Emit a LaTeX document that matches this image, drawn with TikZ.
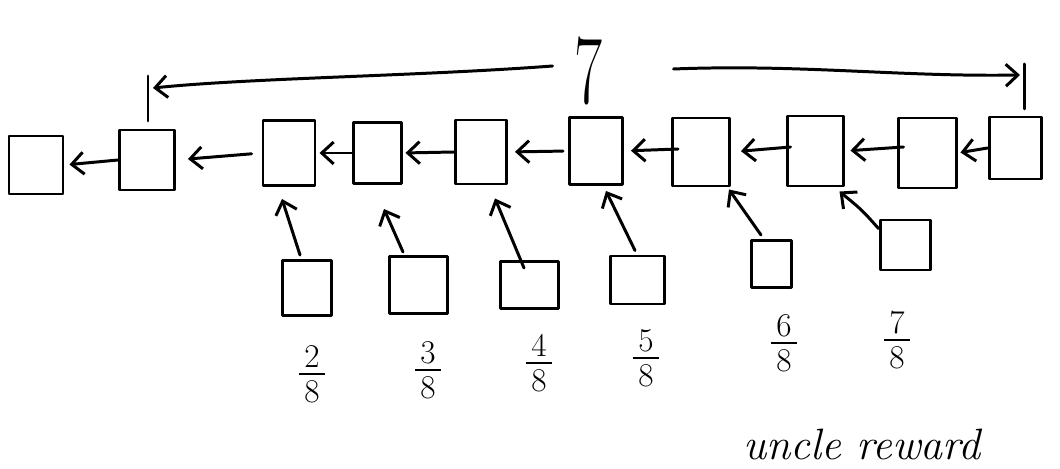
\RequirePackage{fix-cm}
\documentclass[tikz,border=0pt]{standalone}
\usepackage{amsmath}
\usetikzlibrary{arrows.meta,calc}
\begin{document}
\begin{tikzpicture}[x=0.02cm,y=-0.02cm, line width=1.7pt, line cap=round, line join=round,
  blk/.style={draw, inner sep=0pt, line width=1.7pt},
  sz/.style 2 args={minimum width=#1*0.02cm, minimum height=#2*0.02cm},
  arr/.style={-{Straight Barb[length=2.4mm,width=4.4mm]}},
  frc/.style={inner sep=0pt, font=\fontsize{27}{30}\selectfont}]
\useasboundingbox (0,0) rectangle (1060,469);
% main chain
\node[blk,sz={54}{58}] (b1)  at (36,165)  {};
\node[blk,sz={55}{60}] (b2)  at (147,160) {};
\node[blk,sz={52}{65}] (b3)  at (289,153) {};
\node[blk,sz={48}{61}] (b4)  at (377,153) {};
\node[blk,sz={51}{64}] (b5)  at (481,152) {};
\node[blk,sz={53}{67}] (b6)  at (596,151) {};
\node[blk,sz={57}{68}] (b7)  at (701,152) {};
\node[blk,sz={56}{70}] (b8)  at (815,151) {};
\node[blk,sz={58}{70}] (b9)  at (927,153) {};
\node[blk,sz={52}{62}] (b10) at (1015,148) {};
% chain arrows
\draw[arr, shorten >=0.1cm] (b2.west) -- (b1.east);
\draw[arr, shorten <=0.2cm, shorten >=0.24cm] (b3.west) -- (b2.east);
\draw[arr, shorten >=0.06cm] (b4.west) -- (b3.east);
\draw[arr, shorten >=0.06cm] (b5.west) -- (b4.east);
\draw[arr, shorten <=0.1cm, shorten >=0.14cm] (b6.west) -- (b5.east);
\draw[arr, shorten >=0.14cm] ($(b7.west)+(7,-3)$) -- (b6.east);
\draw[arr, shorten >=0.2cm] ($(b8.west)+(5,-4)$) -- (b7.east);
\draw[arr, shorten >=0.12cm] ($(b9.west)+(7,-6)$) -- (b8.east);
\draw[arr, shorten >=0.06cm] (b10.west) -- (b9.east);
% uncles
\node[blk,sz={49}{55}] (u1) at (307,288) {};
\node[blk,sz={58}{57}] (u2) at (418,285) {};
\node[blk,sz={58}{47}] (u3) at (529,285) {};
\node[blk,sz={54}{48}] (u4) at (637,280) {};
\node[blk,sz={40}{47}] (u5) at (771,264) {};
\node[blk,sz={50}{50}] (u6) at (905,245) {};
\draw[arr] ($(u1.north)+(-7,-4)$) -- ($(b3.south)+(-7,12)$);
\draw[arr] ($(u2.north)+(-15,-3)$) -- ($(b4.south)+(7,24)$);
\draw[arr] ($(u3.north)+(-5,8)$) -- ($(b5.south)+(14,13)$);
\draw[arr] ($(u4.north)+(-2,-4)$) -- ($(b6.south)+(10,5)$);
\draw[arr] ($(u5.north)+(-10,-4)$) -- ($(b7.south east)+(-2,2)$);
\draw[arr] ($(u6.north west)+(0,10)$) .. controls (862,210) .. ($(b8.south east)+(-5,4)$);
% fractions
\node[frc] (f2) at (312,374) {$\genfrac{}{}{1.5pt}{1}{\,2\,}{\,8\,}$};
\node[frc] (f3) at (428,370) {$\genfrac{}{}{1.5pt}{1}{\,3\,}{\,8\,}$};
\node[frc] (f4) at (539,363) {$\genfrac{}{}{1.5pt}{1}{\,4\,}{\,8\,}$};
\node[frc] (f5) at (646,358) {$\genfrac{}{}{1.5pt}{1}{\,5\,}{\,8\,}$};
\node[frc] (f6) at (784,343) {$\genfrac{}{}{1.5pt}{1}{\,6\,}{\,8\,}$};
\node[frc] (f7) at (897,340) {$\genfrac{}{}{1.5pt}{1}{\,7\,}{\,8\,}$};
% top bracket
\node[inner sep=0pt] (seven) at (588,71) {\fontsize{56}{60}\selectfont\scalebox{0.62}[1]{7}};
\coordinate (tl1) at (148,76);
\coordinate (tl2) at (148,121);
\coordinate (tr1) at (1024,64);
\coordinate (tr2) at (1024,109);
\draw (tl1) -- (tl2);
\draw (tr1) -- (tr2);
\draw[arr] ($(seven.west)+(-20,-5)$) .. controls (420,76) and (250,78) .. ($(tl1)+(5,12)$);
\draw[arr] ($(seven.east)+(70,-2)$) .. controls (800,64) and (900,77) .. ($(tr1)+(-4,11)$);
% label
\node[anchor=base west, inner sep=0pt] (ur) at (742,459) {\fontsize{25}{30}\selectfont\itshape uncle reward};
\end{tikzpicture}
\end{document}
